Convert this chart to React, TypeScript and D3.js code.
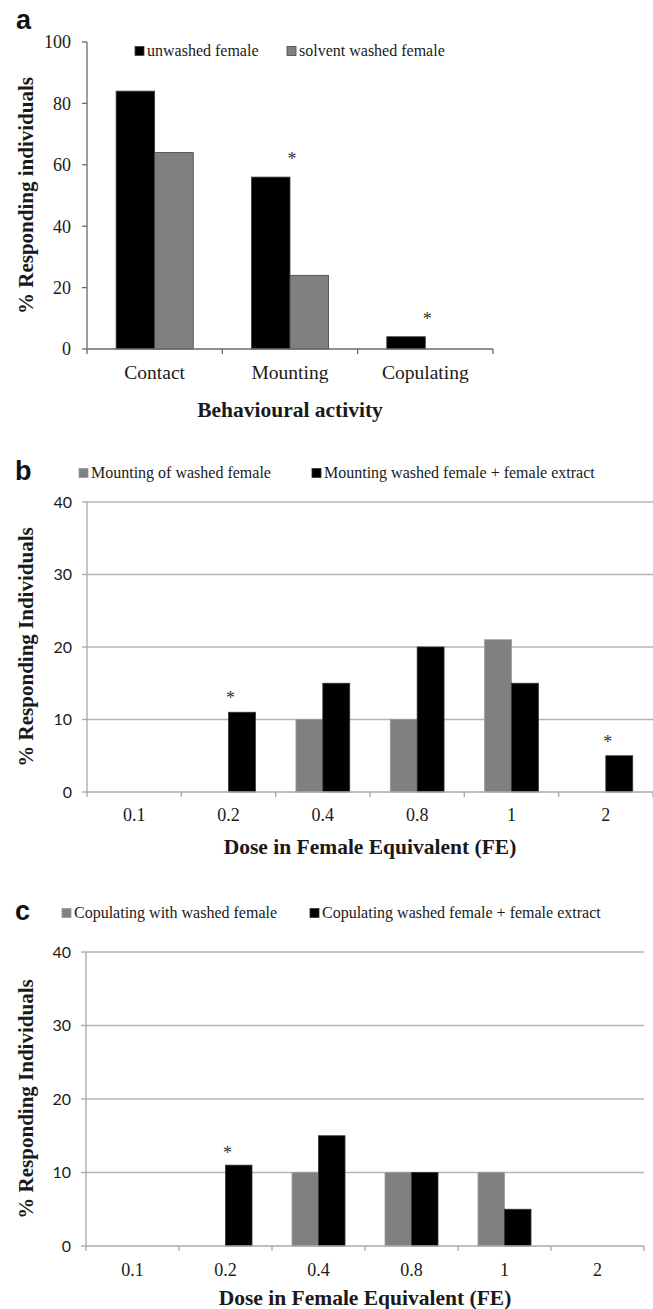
import React from "react";
import * as d3 from "d3";

// ---------- Data ----------
const activities = ["Contact", "Mounting", "Copulating"];
const unwashedFemale = [84, 56, 4];
const solventWashedFemale = [64, 24, 0];
const sigA = [false, true, true];
const yTicksA = [0, 20, 40, 60, 80, 100];

const doses = ["0.1", "0.2", "0.4", "0.8", "1", "2"];
const mountingWashed = [0, 0, 10, 10, 21, 0];
const mountingExtract = [0, 11, 15, 20, 15, 5];
const sigB = [false, true, false, false, false, true];

const copulatingWashed = [0, 0, 10, 10, 10, 0];
const copulatingExtract = [0, 11, 15, 10, 5, 0];
const sigC = [false, true, false, false, false, false];
const yTicksBC = [0, 10, 20, 30, 40];

const BLACK = "#000000";
const GREY = "#808080";
const SERIF = "'Liberation Serif', 'Times New Roman', serif";
const SANS = "Lato, 'Open Sans', sans-serif";

type Series = { label: string; values: number[]; color: string; stroke: string; legendX: number };

type PanelProps = {
  letter: string;
  letterY: number;
  cats: string[];
  series: Series[];
  sig: boolean[];
  yTicks: number[];
  yMax: number;
  left: number;
  right: number;
  top: number;
  bottom: number;
  grid: boolean;
  axisColor: string;
  tickFont: string;
  tickSize: number;
  tickRight: number;
  catSize: number;
  catY: number;
  xTitle: string;
  xTitleY: number;
  yTitle: string;
  legendY: number;
  starGap: number;
};

function Panel(p: PanelProps) {
  const x0 = d3
    .scaleBand<string>()
    .domain(p.cats)
    .range([p.left, p.right])
    .paddingInner(0.43)
    .paddingOuter(0.215);
  const x1 = d3
    .scaleBand<number>()
    .domain(p.series.map((_, i) => i))
    .range([0, x0.bandwidth()]);
  const y = d3.scaleLinear().domain([0, p.yMax]).range([p.bottom, p.top]);
  const step = x0.step();
  const boundaries = d3.range(p.cats.length + 1).map((i) => p.left + i * step);

  return (
    <g>
      <text x={p.letter === "a" ? 16 : 15} y={p.letterY} fontFamily="'Liberation Sans', Arial, sans-serif" fontWeight="bold" fontSize={27} fill="#111">
        {p.letter}
      </text>
      {/* legend */}
      {p.series.map((s, i) => (
        <g key={"lg" + i}>
          <rect x={s.legendX} y={p.legendY - 4.5} width={9} height={9} fill={s.color} stroke={s.stroke} strokeWidth={0.8} />
          <text x={s.legendX + 12} y={p.legendY + 5} fontFamily={SERIF} fontSize={16} fill="#1a1a1a">
            {s.label}
          </text>
        </g>
      ))}
      {/* gridlines */}
      {p.grid &&
        p.yTicks
          .filter((t) => t > 0)
          .map((t) => (
            <line key={"g" + t} x1={p.left} x2={p.right} y1={y(t)} y2={y(t)} stroke="#b5b5b5" strokeWidth={1.3} />
          ))}
      {/* bars */}
      {p.cats.map((c, ci) =>
        p.series.map((s, si) =>
          s.values[ci] > 0 ? (
            <rect
              key={c + si}
              x={(x0(c) as number) + (x1(si) as number)}
              y={y(s.values[ci])}
              width={x1.bandwidth()}
              height={y(0) - y(s.values[ci])}
              fill={s.color}
              stroke={s.stroke}
              strokeWidth={0.8}
            />
          ) : null
        )
      )}
      {/* significance asterisks */}
      {p.cats.map((c, ci) => {
        if (!p.sig[ci]) return null;
        const topVal = d3.max(p.series, (s) => s.values[ci]) as number;
        const cy = y(topVal) - p.starGap;
        return (
          <text key={"s" + c} x={(x0(c) as number) + x0.bandwidth() / 2 + 2} y={cy + 9} textAnchor="middle" fontFamily={SERIF} fontSize={18} fill="#333">
            *
          </text>
        );
      })}
      {/* y axis */}
      <line x1={p.left} x2={p.left} y1={p.top} y2={p.bottom} stroke={p.axisColor} strokeWidth={1.3} />
      {p.yTicks.map((t) => (
        <g key={"yt" + t}>
          <line x1={p.left - 5} x2={p.left} y1={y(t)} y2={y(t)} stroke={p.axisColor} strokeWidth={1.3} />
          <text x={p.tickRight} y={y(t)} dy="0.35em" textAnchor="end" fontFamily={p.tickFont} fontSize={p.tickSize} fill="#1a1a1a">
            {t}
          </text>
        </g>
      ))}
      {/* x axis */}
      <line x1={p.left} x2={p.right} y1={p.bottom} y2={p.bottom} stroke={p.axisColor} strokeWidth={1.3} />
      {boundaries.map((bx, i) => (
        <line key={"xt" + i} x1={bx} x2={bx} y1={p.bottom} y2={p.bottom + 5} stroke={p.axisColor} strokeWidth={1.3} />
      ))}
      {p.cats.map((c) => (
        <text key={"xl" + c} x={(x0(c) as number) + x0.bandwidth() / 2} y={p.catY} dy="0.35em" textAnchor="middle" fontFamily={SERIF} fontSize={p.catSize} fill="#1a1a1a">
          {c}
        </text>
      ))}
      <text x={(p.left + p.right) / 2} y={p.xTitleY} dy="0.35em" textAnchor="middle" fontFamily={SERIF} fontWeight="bold" fontSize={21.5} fill="#1a1a1a">
        {p.xTitle}
      </text>
      <text
        transform={`translate(26,${(p.top + p.bottom) / 2}) rotate(-90)`}
        textAnchor="middle"
        dy="0.35em"
        fontFamily={SERIF}
        fontWeight="bold"
        fontSize={21}
        fill="#1a1a1a"
      >
        {p.yTitle}
      </text>
    </g>
  );
}

export default function App() {
  return (
    <svg width={653} height={1309} style={{ position: "absolute", left: 0, top: 0, background: "#fff" }}>
      <rect width={653} height={1309} fill="#fff" />
      <Panel
        letter="a"
        letterY={29}
        cats={activities}
        series={[
          { label: "unwashed female", values: unwashedFemale, color: BLACK, stroke: "#444", legendX: 135 },
          { label: "solvent washed female", values: solventWashedFemale, color: GREY, stroke: "#444", legendX: 287 },
        ]}
        sig={sigA}
        yTicks={yTicksA}
        yMax={100}
        left={87}
        right={493}
        top={42}
        bottom={349}
        grid={false}
        axisColor="#6a6a6a"
        tickFont={SERIF}
        tickSize={18}
        tickRight={71}
        catSize={19.5}
        catY={372}
        xTitle="Behavioural activity"
        xTitleY={409}
        yTitle="% Responding individuals"
        legendY={51}
        starGap={21}
      />
      <Panel
        letter="b"
        letterY={480}
        cats={doses}
        series={[
          { label: "Mounting of washed female", values: mountingWashed, color: GREY, stroke: "#9a9a9a", legendX: 79 },
          { label: "Mounting washed female + female extract", values: mountingExtract, color: BLACK, stroke: "#333", legendX: 312 },
        ]}
        sig={sigB}
        yTicks={yTicksBC}
        yMax={40}
        left={87}
        right={653}
        top={502}
        bottom={792}
        grid={true}
        axisColor="#a8a8a8"
        tickFont={SANS}
        tickSize={16}
        tickRight={72}
        catSize={18}
        catY={815}
        xTitle="Dose in Female Equivalent (FE)"
        xTitleY={846}
        yTitle="% Responding Individuals"
        legendY={473}
        starGap={17}
      />
      <Panel
        letter="c"
        letterY={920}
        cats={doses}
        series={[
          { label: "Copulating with washed female", values: copulatingWashed, color: GREY, stroke: "#9a9a9a", legendX: 62 },
          { label: "Copulating washed female + female extract", values: copulatingExtract, color: BLACK, stroke: "#333", legendX: 310 },
        ]}
        sig={sigC}
        yTicks={yTicksBC}
        yMax={40}
        left={86}
        right={644}
        top={952}
        bottom={1246}
        grid={true}
        axisColor="#a8a8a8"
        tickFont={SANS}
        tickSize={16}
        tickRight={71}
        catSize={18}
        catY={1270}
        xTitle="Dose in Female Equivalent (FE)"
        xTitleY={1297}
        yTitle="% Responding Individuals"
        legendY={913}
        starGap={15}
      />
    </svg>
  );
}
